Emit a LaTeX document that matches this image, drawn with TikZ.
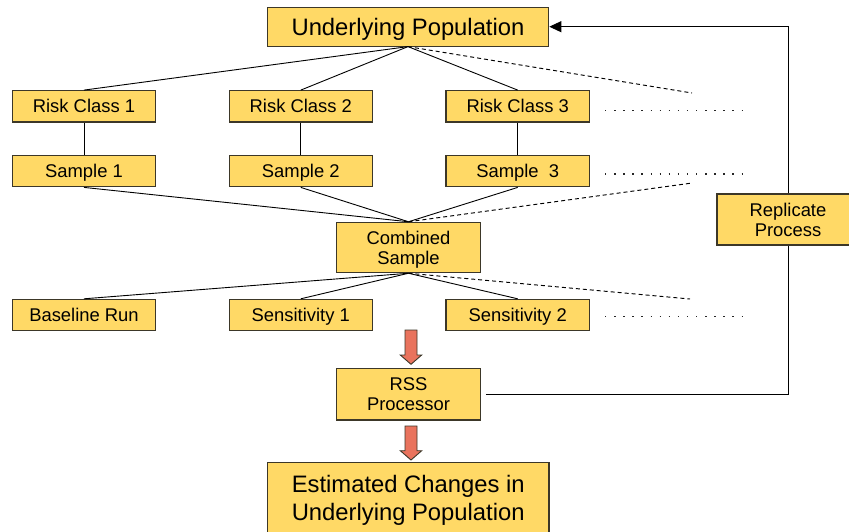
\documentclass[tikz,border=0pt]{standalone}
\usepackage{fontspec}
\setmainfont{Liberation Sans}
\usetikzlibrary{arrows.meta}
\definecolor{boxfill}{RGB}{255,217,102}
\definecolor{boxline}{RGB}{60,55,40}
\definecolor{redfill}{RGB}{233,115,93}
\tikzset{
  base/.style={draw=boxline, line width=1.1pt, fill=boxfill, inner sep=0pt,
    minimum width=143.5pt, font=\fontsize{18.4}{20}\selectfont},
  smallbox/.style={base, minimum height=31.3pt, text height=13.2pt, text depth=0pt},
  twobox/.style={base, minimum height=51pt, align=center, text depth=0pt},
  bigbox/.style={base, minimum width=281.5pt, font=\fontsize{23.8}{28}\selectfont},
  link/.style={draw=black, line width=0.9pt},
  dashl/.style={draw=black, line width=0.95pt, dash pattern=on 4pt off 3pt},
  dotl/.style={draw=black!85, line width=1.4pt, dash pattern=on 1.4pt off 7.7pt},
  fb/.style={draw=black, line width=0.9pt},
  redarrow/.style={fill=redfill, draw=boxline, line width=0.9pt, line join=miter}
}
\begin{document}
\begin{tikzpicture}[x=1pt, y=-1pt]
\useasboundingbox (0,0) rectangle (849,531);
\clip (0,0) rectangle (849,531);
\node[bigbox, minimum height=38.7pt, text height=17.1pt, text depth=0pt] (up) at (408,26.7) {Underlying Population};
\node[smallbox] (rc1) at (84,106.3) {Risk Class 1};
\node[smallbox] (rc2) at (300.8,106.3) {Risk Class 2};
\node[smallbox] (rc3) at (517.7,106.3) {Risk Class 3};
\node[smallbox] (s1) at (84,171.2) {Sample 1};
\node[smallbox] (s2) at (300.8,171.2) {Sample 2};
\node[smallbox] (s3) at (517.7,171.2) {Sample\ \ 3};
\node[twobox, minimum height=50.4pt] (cs) at (408.5,247.5) {Combined\\Sample};
\node[smallbox] (br) at (84,315) {Baseline Run};
\node[smallbox] (se1) at (300.8,315) {Sensitivity 1};
\node[smallbox] (se2) at (517.7,315) {Sensitivity 2};
\node[twobox, minimum height=51.3pt] (rss) at (408.5,394.3) {RSS\\Processor};
\node[bigbox, minimum height=70.4pt, align=center, text depth=0pt] (ec) at (408.2,497.9) {Estimated Changes in\\Underlying Population};

% tree links
\draw[link] (up.south) -- (rc1.north);
\draw[link] (up.south) -- (rc2.north);
\draw[link] (up.south) -- (rc3.north);
\draw[link] (rc1.south) -- (s1.north);
\draw[link] (rc2.south) -- (s2.north);
\draw[link] (rc3.south) -- (s3.north);
\draw[link] (s1.south) -- (cs.north);
\draw[link] (s2.south) -- (cs.north);
\draw[link] (s3.south) -- (cs.north);
\draw[link] (cs.south) -- (br.north);
\draw[link] (cs.south) -- (se1.north);
\draw[link] (cs.south) -- (se2.north);

% dashed continuations
\coordinate (d1) at (692,93);
\coordinate (d2) at (690,183.3);
\coordinate (d3) at (690,299);
\draw[dashl] (up.south) -- (d1);
\draw[dashl] (cs.north) -- (d2);
\draw[dashl] (cs.south) -- (d3);

% dotted continuations
\coordinate (p1a) at (605,110.7); \coordinate (p1b) at (742,110.7);
\coordinate (p2a) at (605,174);   \coordinate (p2b) at (742,174);
\coordinate (p3a) at (605,316.7); \coordinate (p3b) at (742,316.7);
\draw[dotl] (p1a) -- (p1b);
\draw[dotl] (p2a) -- (p2b);
\draw[dotl] (p3a) -- (p3b);

% feedback loop
\coordinate (repc) at (788,219.5);
\draw[fb] ([xshift=5pt]rss.east) -| (repc);
\draw[fb, -{Triangle[length=12pt,width=11pt]}] (repc) |- (up.east);
\node[twobox, minimum width=142pt] (rep) at (repc) {Replicate\\Process};

% block arrows
\draw[redarrow] (405,330) -- (417,330) -- (417,355) -- (421.7,355) -- (411,364.3) -- (400.3,355) -- (405,355) -- cycle;
\draw[redarrow] (405,426) -- (417,426) -- (417,450.7) -- (421.7,450.7) -- (411,460) -- (400.3,450.7) -- (405,450.7) -- cycle;
\end{tikzpicture}
\end{document}
